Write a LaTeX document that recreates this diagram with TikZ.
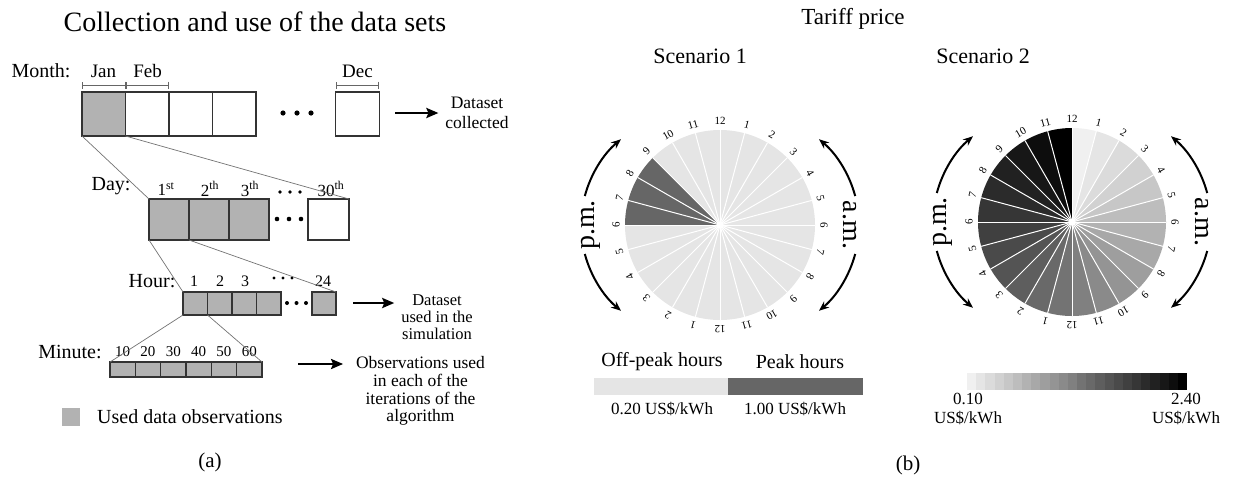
\documentclass[tikz,border=0pt]{standalone}
\usepackage{fontspec}
\setmainfont{Liberation Serif}
\usetikzlibrary{arrows.meta,calc}
\definecolor{usedgray}{gray}{0.7}
\definecolor{offpeak}{gray}{0.9}
\definecolor{peak}{gray}{0.4}
\newcommand{\fsz}[2]{\fontsize{#1}{#2}\selectfont}

\begin{document}
\begin{tikzpicture}[x=1pt, y=-1pt,
	every node/.style={inner sep=0pt, outer sep=0pt},
	cell/.style={draw=black!80, line width=1.2pt, fill=white},
	used/.style={fill=usedgray},
	month/.style={cell, minimum width=43.5pt, minimum height=44pt},
	day/.style={cell, minimum width=40pt, minimum height=41pt},
	hour/.style={cell, used, minimum width=24.5pt, minimum height=23pt},
	minute/.style={cell, used, minimum width=25.33pt, minimum height=15pt},
	rowname/.style={font=\fsz{20}{24}},
	rowtick/.style={font=\fsz{17}{20}},
	note/.style={align=center, font=\fsz{17.5}{17.7}},
	span/.style={draw=black!60, line width=0.8pt, {Bar[width=7pt]}-{Bar[width=7pt]}},
	zoomline/.style={draw=black!55, line width=0.7pt},
	flow/.style={line width=2.6pt, -{Stealth[length=12pt, width=10pt, inset=2pt]}},
	period/.style={line width=2pt, -{Stealth[length=10pt, width=8pt]}},
	hourlbl/.style={font=\fsz{11}{13}},
	spoke/.style={draw=white, line width=1pt},
	legend/.style={font=\fsz{20}{24}},
	price/.style={align=center, font=\fsz{17}{19}}]
	\useasboundingbox (0,0) rectangle (1237,480);

	\node[font=\fsz{28}{32}] (title) at (255,22) {Collection and use of the data sets};

	\node[rowname] (lmonth) at (41,71) {Month:};
	\node[month, used] (m1) at (103.75,114) {};
	\node[month] (m2) at (147.25,114) {};
	\node[month] (m3) at (190.75,114) {};
	\node[month] (m4) at (234.25,114) {};
	\node[month] (m12) at (357.5,114) {};
	\node[font=\fsz{19}{22}] (ljan) at (103.5,71) {Jan};
	\node[font=\fsz{19}{22}] (lfeb) at (147.5,71) {Feb};
	\node[font=\fsz{19}{22}] (ldec) at (357.5,71) {Dec};
	\draw[span] ([yshift=7pt]m1.north west) -- ([yshift=7pt]m1.north east);
	\draw[span] ([yshift=7pt]m2.north west) -- ([yshift=7pt]m2.north east);
	\draw[span] ([yshift=7pt]m12.north west) -- ([yshift=7pt]m12.north east);
	\foreach \x in {283,297,311} \fill (\x,113) circle (2.6pt);
	\coordinate (am) at (395,113);
	\node[note, font=\fsz{17.5}{20}] (ncol) at (477,113) {Dataset\\collected};
	\draw[flow] (am) -- (ncol) [shorten >=7pt];

	\node[rowname] (lday) at (111,186) {Day:};
	\node[day, used] (d1) at (169,219.5) {};
	\node[day, used] (d2) at (209,219.5) {};
	\node[day, used] (d3) at (249,219.5) {};
	\node[day, minimum width=41pt] (d30) at (328.5,219.5) {};
	\node[rowtick] (l1) at (166,189) {1\textsuperscript{st}};
	\node[rowtick] (l2) at (210,189) {2\textsuperscript{th}};
	\node[rowtick] (l3) at (250,189) {3\textsuperscript{th}};
	\node[rowtick] (l30) at (331,189) {30\textsuperscript{th}};
	\foreach \x in {280,290,300} \fill (\x,192) circle (1.9pt);
	\foreach \x in {277,289,301} \fill (\x,219) circle (2.3pt);

	\node[rowname] (lhour) at (152,281) {Hour:};
	\node[hour] (h1) at (195.25,303.5) {};
	\node[hour] (h2) at (219.75,303.5) {};
	\node[hour] (h3) at (244.25,303.5) {};
	\node[hour] (h4) at (268.75,303.5) {};
	\node[hour, minimum width=24pt] (h24) at (324,303.5) {};
	\node[font=\fsz{16}{18}] (t1) at (194,281) {1};
	\node[font=\fsz{16}{18}] (t2) at (220,281) {2};
	\node[font=\fsz{16}{18}] (t3) at (245,281) {3};
	\node[font=\fsz{16}{18}] (t24) at (323,281) {24};
	\foreach \x in {274,283,292} \fill (\x,278) circle (1.7pt);
	\foreach \x in {287,296.5,306} \fill (\x,303) circle (2pt);
	\coordinate (ah) at (353,303);
	\node[note, font=\fsz{16.5}{16.7}] (nsim) at (437,317) {Dataset\\used in the\\simulation};
	\draw[flow] (ah) -- (ah -| nsim.west) [shorten >=7pt];

	\node[rowname] (lmin) at (70,352) {Minute:};
	\foreach \i/\m in {1/10,2/20,3/30,4/40,5/50,6/60} {
		\node[minute] (min\i) at ({110+25.33*(\i-0.5)},369.5) {};
		\node[font=\fsz{15}{18}] (tm\i) at ({110+25.33*(\i-0.5)},352) {\m};
	}
	\coordinate (amin) at (298,364);
	\node[note] (nobs) at (420.5,391) {Observations used\\in each of the\\iterations of the\\algorithm};
	\draw[flow] (amin) -- (amin -| nobs.west) [shorten >=13pt];

	\draw[zoomline] (m1.south west) -- (d1.north west);
	\draw[zoomline] (m1.south east) -- (d30.north east);
	\draw[zoomline] (d1.south west) -- (h1.north west);
	\draw[zoomline] (d1.south east) -- (h24.north east);
	\draw[zoomline] (h1.south west) -- (min1.north west);
	\draw[zoomline] (h1.south east) -- (min6.north east);

	\node[fill=usedgray, minimum size=18pt] (key) at (71,417) {};
	\node[legend] (lkey) at (190,417) {Used data observations};
	\node[font=\fsz{21}{24}] (capa) at (210,462) {(a)};

	\node[font=\fsz{23}{26}] (tariff) at (853,19) {Tariff price};
	\node[font=\fsz{22}{26}] (sc1) at (700,56) {Scenario 1};
	\node[font=\fsz{22}{26}] (sc2) at (983,56) {Scenario 2};

	\coordinate (c1) at (720,225);
	\coordinate (c2) at (1072,222);
	\foreach \k in {0,...,23} {
		\ifnum\k>17 \ifnum\k<21 \def\wedge{peak}\else\def\wedge{offpeak}\fi\else\def\wedge{offpeak}\fi
		\fill[\wedge] (c1) -- ++({90-15*\k}:95pt) arc[start angle={90-15*\k}, delta angle=-15, radius=95pt] -- cycle;
		\pgfmathtruncatemacro\shade{6+94*\k/23}
		\fill[black!\shade] (c2) -- ++({90-15*\k}:94pt) arc[start angle={90-15*\k}, delta angle=-15, radius=94pt] -- cycle;
	}
	\foreach \c/\r in {c1/95,c2/94} {
		\foreach \k in {0,...,23} {
			\draw[spoke] (\c) -- ++({90-15*\k}:\r pt);
			\pgfmathtruncatemacro\h{mod(\k+11,12)+1}
			\node[hourlbl, rotate={-15*\k}] (\c h\k) at ($(\c)+({90-15*\k}:\r pt+9pt)$) {\h};
		}
		\fill[white] (\c) circle (3.5pt);
		\coordinate (\c l) at ($(\c)+(-27,0)$);
		\coordinate (\c r) at ($(\c)+(27,0)$);
		\draw[period] ($(\c l)+(165:112pt)$) arc[start angle=165, end angle=130, radius=112pt];
		\draw[period] ($(\c l)+(195:112pt)$) arc[start angle=195, end angle=230, radius=112pt];
		\draw[period] ($(\c r)+(15:112pt)$) arc[start angle=15, end angle=50, radius=112pt];
		\draw[period] ($(\c r)+(-15:112pt)$) arc[start angle=-15, end angle=-50, radius=112pt];
		\node[rotate=90, font=\fsz{28}{30}] (\c pm) at ($(\c)+(-129,0)$) {p.m.};
		\node[rotate=-90, font=\fsz{28}{30}] (\c am) at ($(\c)+(130,0)$) {a.m.};
	}

	\node[fill=offpeak, minimum width=134pt, minimum height=17pt] (offbar) at (661,386.5) {};
	\node[fill=peak, minimum width=135pt, minimum height=17pt] (peakbar) at (795.5,386.5) {};
	\node[legend] (loff) at (662,362) {Off-peak hours};
	\node[legend] (lpeak) at (800,362) {Peak hours};
	\node[price] (poff) at (662,409) {0.20 US\$/kWh};
	\node[price] (ppeak) at (795,409) {1.00 US\$/kWh};

	\foreach \i in {0,...,23} {
		\pgfmathtruncatemacro\shade{6+94*\i/23}
		\fill[black!\shade] ({967+220*\i/24},373) rectangle ++(9.3,17);
	}
	\node[price] (plow) at (968,409) {0.10\\US\$/kWh};
	\node[price] (phigh) at (1186,409) {2.40\\US\$/kWh};
	\node[font=\fsz{21}{24}] (capb) at (908,465) {(b)};
\end{tikzpicture}
\end{document}
